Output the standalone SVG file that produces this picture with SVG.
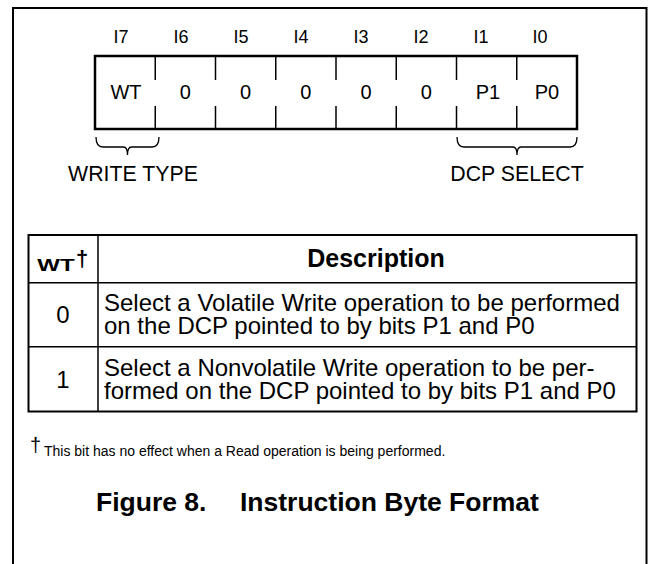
<svg xmlns="http://www.w3.org/2000/svg" width="649" height="564" viewBox="0 0 649 564">
<style>
text{font-family:"Liberation Sans",Arial,Helvetica,sans-serif;fill:#000}
.lbl{font-size:18px;text-anchor:middle}
.cell{font-size:20px;text-anchor:middle}
.grp{font-size:21.3px;text-anchor:middle}
.row{font-size:24px}
.num{font-size:24px;text-anchor:middle}
.hdr{font-size:25px;font-weight:bold;text-anchor:middle}
.cap{font-size:26.5px;font-weight:bold}
.thick{fill:none;stroke:#000;stroke-width:2.5}
.thin{fill:none;stroke:#000;stroke-width:1.5}
.frame{fill:none;stroke:#000;stroke-width:2}
.brace{fill:none;stroke:#000;stroke-width:1.3}
</style>
<path class="frame" d="M13,564 V8 H646.5 V564"/>
<g id="bit-labels">
<text class="lbl" x="121" y="43">I7</text>
<text class="lbl" x="181" y="43">I6</text>
<text class="lbl" x="241" y="43">I5</text>
<text class="lbl" x="301" y="43">I4</text>
<text class="lbl" x="361" y="43">I3</text>
<text class="lbl" x="421" y="43">I2</text>
<text class="lbl" x="481" y="43">I1</text>
<text class="lbl" x="540" y="43">I0</text>
</g>
<g id="byte-box">
<rect class="thick" x="95" y="56" width="482" height="73"/>
<path class="thin" d="M155.25,56V80M155.25,106V129M215.5,56V80M215.5,106V129M275.75,56V80M275.75,106V129M336,56V80M336,106V129M396.25,56V80M396.25,106V129M456.5,56V80M456.5,106V129M516.75,56V80M516.75,106V129"/>
<text class="cell" x="126" y="99">WT</text>
<text class="cell" x="185.4" y="99">0</text>
<text class="cell" x="245.6" y="99">0</text>
<text class="cell" x="305.9" y="99">0</text>
<text class="cell" x="366.1" y="99">0</text>
<text class="cell" x="426.4" y="99">0</text>
<text class="cell" x="488" y="99">P1</text>
<text class="cell" x="547" y="99">P0</text>
</g>
<g id="connectors">
<path class="brace" d="M96,137 q0,10 7,10 H123.5 q4,0 4,8 q0,-8 4,-8 H152 q7,0 7,-10"/>
<path class="brace" d="M457,137 q0,10 7,10 H513 q4,0 4,8 q0,-8 4,-8 H570 q7,0 7,-10"/>
</g>
<g id="write-type">
<text class="grp" x="133" y="181">WRITE TYPE</text>
</g>
<g id="dcp-select">
<text class="grp" x="517" y="181">DCP SELECT</text>
</g>
<g id="table">
<rect class="frame" x="28.5" y="235" width="608" height="176.5"/>
<path class="thin" d="M98,235V411.5M28.5,282.7H636.5M28.5,346.7H636.5"/>
<text x="56" y="271" font-size="16" font-weight="bold" text-anchor="middle" transform="translate(56,0) scale(1.5,1) translate(-56,0)">WT</text>
<text x="76" y="266" font-size="22" font-weight="bold">†</text>
<text class="hdr" x="376" y="267">Description</text>
<text class="num" x="63" y="323">0</text>
<text class="row" x="104" y="311">Select a Volatile Write operation to be performed</text>
<text class="row" x="104" y="334">on the DCP pointed to by bits P1 and P0</text>
<text class="num" x="63" y="388">1</text>
<text class="row" x="104" y="376">Select a Nonvolatile Write operation to be per-</text>
<text class="row" x="104" y="399">formed on the DCP pointed to by bits P1 and P0</text>
</g>
<g id="footnote">
<text x="30" y="452" font-size="20">†</text>
<text x="44" y="456" font-size="14">This bit has no effect when a Read operation is being performed.</text>
</g>
<g id="caption">
<text class="cap" x="96" y="511">Figure 8.</text>
<text class="cap" x="240" y="511">Instruction Byte Format</text>
</g>
</svg>
